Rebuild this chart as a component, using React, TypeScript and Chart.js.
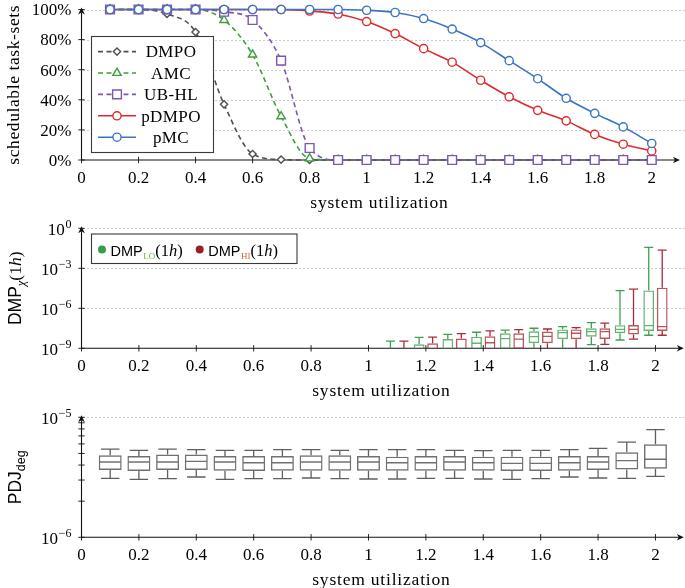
import React, { useEffect, useRef } from 'react';
import { Chart, registerables } from 'chart.js';

Chart.register(...registerables);

// ---------------- data ----------------
const utilization = [0.1, 0.2, 0.3, 0.4, 0.5, 0.6, 0.7, 0.8, 0.9, 1.0, 1.1, 1.2, 1.3, 1.4, 1.5, 1.6, 1.7, 1.8, 1.9, 2.0];
const xTickValues = [0, 0.2, 0.4, 0.6, 0.8, 1, 1.2, 1.4, 1.6, 1.8, 2];
const xTickLabels = ['0', '0.2', '0.4', '0.6', '0.8', '1', '1.2', '1.4', '1.6', '1.8', '2'];

// schedulable task-sets (%)
const dmpo = [100, 100, 97, 85, 37, 4, 0.3, 0, 0, 0, 0, 0, 0, 0, 0, 0, 0, 0, 0, 0];
const amc = [100, 100, 100, 100, 93, 70, 29, 1, 0, 0, 0, 0, 0, 0, 0, 0, 0, 0, 0, 0];
const ubhl = [100, 100, 100, 100, 98.5, 93, 66, 8, 0, 0, 0, 0, 0, 0, 0, 0, 0, 0, 0, 0];
const pdmpo = [100, 100, 100, 100, 100, 100, 100, 99, 97, 92, 84, 74, 65, 53, 42, 33, 26, 17, 10.5, 6];
const pmc = [100, 100, 100, 100, 100, 100, 100, 100, 100, 99.5, 98, 94, 87, 78, 66, 54, 41, 31, 22, 11];
const pctTicks = [0, 20, 40, 60, 80, 100];
const pctLabels = ['0%', '20%', '40%', '60%', '80%', '100%'];

// DMP_chi(1h) box plots
const dmpUtil = [1.1, 1.2, 1.3, 1.4, 1.5, 1.6, 1.7, 1.8, 1.9, 2.0];
const loWhiskerLow = [1e-10, 1e-10, 1e-10, 1e-10, 2e-10, 8e-10, 5e-10, 1.9e-9, 4.2e-9, 9.5e-9];
const loQ1 = [1e-10, 3e-10, 2e-10, 8e-10, 9e-10, 2.4e-9, 4.8e-9, 7.4e-9, 1.35e-8, 2e-8];
const loMedian = [2e-10, 8e-10, 9e-10, 2.4e-9, 5.4e-9, 7.4e-9, 1.5e-8, 1.8e-8, 2.6e-8, 5e-8];
const loQ3 = [5e-10, 2e-9, 5e-9, 7.4e-9, 1.35e-8, 1.9e-8, 2.6e-8, 3.2e-8, 5.4e-8, 2.2e-5];
const loWhiskerHigh = [3.5e-9, 6.7e-9, 1.1e-8, 1.6e-8, 2.3e-8, 3.2e-8, 4.2e-8, 8.3e-8, 2.1e-5, 3.7e-2];
const hiWhiskerLow = [1e-10, 1e-10, 1e-10, 1e-10, 2e-10, 8e-10, 5e-10, 2e-9, 4.8e-9, 9.5e-9];
const hiQ1 = [1e-10, 3e-10, 2e-10, 8e-10, 9e-10, 2.4e-9, 4.8e-9, 5e-9, 1.1e-8, 2e-8];
const hiMedian = [2e-10, 9e-10, 9e-10, 2.6e-9, 4.8e-9, 7.9e-9, 1.35e-8, 1.8e-8, 2.6e-8, 4.2e-8];
const hiQ3 = [5e-10, 2.4e-9, 5.4e-9, 7.9e-9, 1.35e-8, 1.8e-8, 2.6e-8, 3.2e-8, 5.6e-8, 3.5e-5];
const hiWhiskerHigh = [3.5e-9, 7e-9, 1.26e-8, 2e-8, 2.5e-8, 2.8e-8, 3.5e-8, 7.6e-8, 2.7e-5, 2.3e-2];
const dmpTicks = [1e-9, 1e-6, 1e-3, 1];
const dmpTickExp = ['−9', '−6', '−3', '0'];

// PDJ_deg box plots
const pdjWhiskerLow = [3.10e-6, 3.04e-6, 3.08e-6, 3.18e-6, 3.04e-6, 3.08e-6, 3.08e-6, 3.12e-6, 3.08e-6, 3.06e-6, 3.06e-6, 3.10e-6, 3.10e-6, 3.06e-6, 3.04e-6, 3.08e-6, 3.18e-6, 3.12e-6, 3.10e-6, 3.22e-6];
const pdjQ1 = [3.64e-6, 3.57e-6, 3.64e-6, 3.64e-6, 3.59e-6, 3.57e-6, 3.59e-6, 3.59e-6, 3.59e-6, 3.59e-6, 3.59e-6, 3.59e-6, 3.59e-6, 3.59e-6, 3.57e-6, 3.57e-6, 3.59e-6, 3.64e-6, 3.68e-6, 3.73e-6];
const pdjMedian = [4.24e-6, 4.24e-6, 4.24e-6, 4.30e-6, 4.24e-6, 4.18e-6, 4.18e-6, 4.24e-6, 4.24e-6, 4.24e-6, 4.18e-6, 4.18e-6, 4.24e-6, 4.18e-6, 4.13e-6, 4.13e-6, 4.18e-6, 4.24e-6, 4.35e-6, 4.47e-6];
const pdjQ3 = [4.82e-6, 4.76e-6, 4.89e-6, 4.89e-6, 4.76e-6, 4.76e-6, 4.76e-6, 4.82e-6, 4.82e-6, 4.76e-6, 4.70e-6, 4.76e-6, 4.76e-6, 4.70e-6, 4.70e-6, 4.70e-6, 4.76e-6, 4.76e-6, 5.11e-6, 5.95e-6];
const pdjWhiskerHigh = [5.44e-6, 5.31e-6, 5.44e-6, 5.37e-6, 5.31e-6, 5.31e-6, 5.37e-6, 5.37e-6, 5.31e-6, 5.37e-6, 5.37e-6, 5.37e-6, 5.31e-6, 5.27e-6, 5.31e-6, 5.31e-6, 5.37e-6, 5.50e-6, 6.22e-6, 7.88e-6];
const pdjTicks = [1e-6, 1e-5];
const pdjTickExp = ['−6', '−5'];
const pdjMinorTicks = [2e-6, 3e-6, 4e-6, 5e-6, 6e-6, 7e-6, 8e-6, 9e-6];

// ---------------- styles ----------------
const W = 685;
const H = 588;
const SERIF = '"Liberation Serif", "Times New Roman", serif';
const SANS = '"Liberation Sans", Arial, sans-serif';
const X_MAX = 2.09;
const PAD_LEFT = 81.5;
const PAD_RIGHT = 3.7;

const C_DMPO = '#4f4f4f';
const C_AMC = '#3d9f3d';
const C_UBHL = '#7d56b4';
const C_PDMPO = '#dd2b2b';
const C_PMC = '#3b74c2';
const C_LO = 'rgb(62,160,78)';
const C_LO_BOX = 'rgba(62,160,78,0.8)';
const C_HI = 'rgb(172,42,52)';
const C_HI_BOX = 'rgba(172,42,52,0.8)';
const C_PDJ = 'rgb(95,95,95)';
const C_PDJ_BOX = 'rgb(112,112,112)';

type Run = { text: string; font: string; dy?: number; color?: string; ls?: number };

function runsWidth(ctx: CanvasRenderingContext2D, runs: Run[]) {
  let w = 0;
  for (const r of runs) {
    ctx.font = r.font;
    (ctx as any).letterSpacing = (r.ls || 0) + 'px';
    w += ctx.measureText(r.text).width;
  }
  (ctx as any).letterSpacing = '0px';
  return w;
}

function drawRuns(ctx: CanvasRenderingContext2D, runs: Run[], x: number, y: number, align: 'left' | 'center' | 'right') {
  const w = runsWidth(ctx, runs);
  let cx = align === 'left' ? x : align === 'center' ? x - w / 2 : x - w;
  ctx.textAlign = 'left';
  ctx.textBaseline = 'alphabetic';
  for (const r of runs) {
    ctx.font = r.font;
    (ctx as any).letterSpacing = (r.ls || 0) + 'px';
    ctx.fillStyle = r.color || '#000';
    ctx.fillText(r.text, cx, y + (r.dy || 0));
    cx += ctx.measureText(r.text).width;
  }
  (ctx as any).letterSpacing = '0px';
}

function seg(ctx: CanvasRenderingContext2D, x1: number, y1: number, x2: number, y2: number) {
  ctx.beginPath();
  ctx.moveTo(x1, y1);
  ctx.lineTo(x2, y2);
  ctx.stroke();
}

function arrowRight(ctx: CanvasRenderingContext2D, tipX: number, y: number) {
  ctx.beginPath();
  ctx.moveTo(tipX, y);
  ctx.lineTo(tipX - 7, y - 3.3);
  ctx.lineTo(tipX - 5, y);
  ctx.lineTo(tipX - 7, y + 3.3);
  ctx.closePath();
  ctx.fill();
}

function arrowUp(ctx: CanvasRenderingContext2D, x: number, tipY: number) {
  ctx.beginPath();
  ctx.moveTo(x, tipY);
  ctx.lineTo(x - 3.3, tipY + 7);
  ctx.lineTo(x, tipY + 5);
  ctx.lineTo(x + 3.3, tipY + 7);
  ctx.closePath();
  ctx.fill();
}

function drawMarker(ctx: CanvasRenderingContext2D, style: string, x: number, y: number, r: number, color: string) {
  ctx.save();
  ctx.setLineDash([]);
  ctx.beginPath();
  if (style === 'rectRot') {
    ctx.moveTo(x, y - r); ctx.lineTo(x + r, y); ctx.lineTo(x, y + r); ctx.lineTo(x - r, y); ctx.closePath();
  } else if (style === 'triangle') {
    ctx.moveTo(x, y - r); ctx.lineTo(x + 0.866 * r, y + 0.5 * r); ctx.lineTo(x - 0.866 * r, y + 0.5 * r); ctx.closePath();
  } else if (style === 'rect') {
    const s = r * Math.SQRT1_2;
    ctx.rect(x - s, y - s, 2 * s, 2 * s);
  } else {
    ctx.arc(x, y, r, 0, Math.PI * 2);
  }
  ctx.fillStyle = '#fff';
  ctx.fill();
  ctx.strokeStyle = color;
  ctx.lineWidth = 1.4;
  ctx.stroke();
  ctx.restore();
}

type FrameSpec = {
  grid: number[];
  yTicks: number[];
  yMinor?: number[];
  yLabel: (ctx: CanvasRenderingContext2D, y: number, i: number) => void;
  yTitle: Run[];
  yTitleX: number;
};

function framePlugin(spec: FrameSpec) {
  return {
    id: 'frame',
    beforeDatasetsDraw(chart: any) {
      const ctx: CanvasRenderingContext2D = chart.ctx;
      const a = chart.chartArea;
      const xs = chart.scales.x;
      const ys = chart.scales.y;
      ctx.save();
      // grid
      ctx.strokeStyle = '#9c9c9c';
      ctx.lineWidth = 1;
      ctx.setLineDash([1, 3]);
      for (const v of spec.grid) {
        const y = Math.round(ys.getPixelForValue(v)) + 0.5;
        seg(ctx, a.left + 2, y, W, y);
      }
      ctx.setLineDash([]);
      // axes
      ctx.strokeStyle = '#111';
      ctx.fillStyle = '#111';
      ctx.lineWidth = 1.1;
      seg(ctx, a.left, a.bottom, a.right - 1, a.bottom);
      arrowRight(ctx, a.right + 2.5, a.bottom);
      seg(ctx, a.left, a.bottom, a.left, a.top + 3);
      arrowUp(ctx, a.left, a.top - 2);
      ctx.lineWidth = 0.9;
      for (const v of xTickValues) {
        const x = xs.getPixelForValue(v);
        seg(ctx, x, a.bottom - 3.2, x, a.bottom + 3.2);
      }
      for (const v of [...spec.yTicks, ...(spec.yMinor || [])]) {
        const y = ys.getPixelForValue(v);
        seg(ctx, a.left - 3.2, y, a.left + 3.2, y);
      }
      // x tick labels
      ctx.fillStyle = '#000';
      ctx.font = `17px ${SERIF}`;
      ctx.textAlign = 'center';
      ctx.textBaseline = 'alphabetic';
      xTickValues.forEach((v, i) => {
        ctx.fillText(xTickLabels[i], xs.getPixelForValue(v), a.bottom + 22.5);
      });
      // y tick labels
      spec.yTicks.forEach((v, i) => spec.yLabel(ctx, ys.getPixelForValue(v), i));
      // x title
      drawRuns(ctx, [{ text: 'system utilization', font: `17.5px ${SERIF}`, ls: 0.8 }], (a.left + a.right) / 2, a.bottom + 48, 'center');
      // y title
      ctx.save();
      ctx.translate(spec.yTitleX, (a.top + a.bottom) / 2);
      ctx.rotate(-Math.PI / 2);
      drawRuns(ctx, spec.yTitle, 0, 0, 'center');
      ctx.restore();
      ctx.restore();
    },
  };
}

function powLabel(exps: string[]) {
  return (ctx: CanvasRenderingContext2D, y: number, i: number) => {
    drawRuns(
      ctx,
      [
        { text: '10', font: `17px ${SERIF}` },
        { text: ' ', font: `3px ${SERIF}` },
        { text: exps[i], font: `12px ${SERIF}`, dy: -7 },
      ],
      71.5,
      y + 6.5,
      'right'
    );
  };
}

type BoxGroup = {
  xs: number[];
  wl: number[];
  q1: number[];
  med: number[];
  q3: number[];
  wh: number[];
  color: string;
  boxColor: string;
  boxW: number;
  capW: number;
};

function whiskerPlugin(groups: BoxGroup[]) {
  return {
    id: 'whiskers',
    afterDatasetsDraw(chart: any) {
      const ctx: CanvasRenderingContext2D = chart.ctx;
      const a = chart.chartArea;
      const xs = chart.scales.x;
      const ys = chart.scales.y;
      ctx.save();
      ctx.beginPath();
      ctx.rect(a.left, a.top - 3, a.right - a.left, a.bottom - a.top + 3);
      ctx.clip();
      for (const g of groups) {
        g.xs.forEach((xv, i) => {
          const x = xs.getPixelForValue(xv);
          const yWl = ys.getPixelForValue(g.wl[i]);
          const yQ1 = ys.getPixelForValue(g.q1[i]);
          const yMed = ys.getPixelForValue(g.med[i]);
          const yQ3 = ys.getPixelForValue(g.q3[i]);
          const yWh = ys.getPixelForValue(g.wh[i]);
          ctx.strokeStyle = g.color;
          ctx.lineWidth = 1.3;
          seg(ctx, x, yQ3, x, yWh);
          seg(ctx, x - g.capW / 2, yWh, x + g.capW / 2, yWh);
          seg(ctx, x, yQ1, x, yWl);
          seg(ctx, x - g.capW / 2, yWl, x + g.capW / 2, yWl);
          ctx.strokeStyle = g.boxColor;
          seg(ctx, x - g.boxW / 2 + 1, yMed, x + g.boxW / 2 - 1, yMed);
        });
      }
      ctx.restore();
    },
  };
}

// ---------------- chart A ----------------
const seriesA = [
  { label: 'DMPO', values: dmpo, color: C_DMPO, dash: [5, 3.5], style: 'rectRot', r: 3.6 },
  { label: 'AMC', values: amc, color: C_AMC, dash: [5, 3.5], style: 'triangle', r: 4.8 },
  { label: 'UB-HL', values: ubhl, color: C_UBHL, dash: [5, 3.5], style: 'rect', r: 6.2 },
  { label: 'pDMPO', values: pdmpo, color: C_PDMPO, dash: [] as number[], style: 'circle', r: 4.1 },
  { label: 'pMC', values: pmc, color: C_PMC, dash: [] as number[], style: 'circle', r: 4.1 },
];

const legendA = {
  id: 'legendA',
  afterDatasetsDraw(chart: any) {
    const ctx: CanvasRenderingContext2D = chart.ctx;
    ctx.save();
    ctx.fillStyle = '#fff';
    ctx.fillRect(91.5, 36.5, 122, 116);
    ctx.strokeStyle = '#3a3a3a';
    ctx.lineWidth = 1.1;
    ctx.strokeRect(91.5, 36.5, 122, 116);
    seriesA.forEach((s, i) => {
      const y = 51.6 + i * 21.4;
      ctx.strokeStyle = s.color;
      ctx.lineWidth = 1.6;
      ctx.setLineDash(s.dash);
      seg(ctx, 98, y, 136, y);
      ctx.setLineDash([]);
      drawMarker(ctx, s.style, 117, y, s.r, s.color);
      drawRuns(ctx, [{ text: s.label, font: `17px ${SERIF}`, ls: 0.4 }], 171, y + 5.8, 'center');
    });
    ctx.restore();
  },
};

function makeChartA(canvas: HTMLCanvasElement) {
  return new Chart(canvas, {
    type: 'line',
    data: {
      datasets: seriesA.map((s, i) => ({
        label: s.label,
        data: utilization.map((u, k) => ({ x: u, y: s.values[k] })),
        borderColor: s.color,
        borderWidth: 1.6,
        borderDash: s.dash,
        pointStyle: s.style as any,
        pointRadius: s.r,
        pointBorderWidth: 1.4,
        pointBorderColor: s.color,
        pointBackgroundColor: '#fff',
        cubicInterpolationMode: 'monotone' as const,
        clip: false as any,
        order: 5 - i,
      })),
    },
    options: {
      animation: false,
      responsive: false,
      events: [],
      layout: { padding: { left: PAD_LEFT, right: PAD_RIGHT, top: 9.5, bottom: H - 160 } },
      scales: {
        x: { type: 'linear', min: 0, max: X_MAX, display: false },
        y: { type: 'linear', min: 0, max: 100, display: false },
      },
      plugins: { legend: { display: false }, tooltip: { enabled: false } },
    },
    plugins: [
      framePlugin({
        grid: [20, 40, 60, 80, 100],
        yTicks: pctTicks,
        yLabel: (ctx, y, i) => drawRuns(ctx, [{ text: pctLabels[i], font: `17px ${SERIF}` }], 71.5, y + 5.8, 'right'),
        yTitle: [{ text: 'schedulable task-sets', font: `17.5px ${SERIF}`, ls: 0.6 }],
        yTitleX: 18.5,
      }),
      legendA,
    ],
  });
}

// ---------------- chart B ----------------
const DMP_OFFSET = 0.0235;
const loX = dmpUtil.map((u) => u - DMP_OFFSET);
const hiX = dmpUtil.map((u) => u + DMP_OFFSET);

const legendB = {
  id: 'legendB',
  afterDraw(chart: any) {
    const ctx: CanvasRenderingContext2D = chart.ctx;
    ctx.save();
    ctx.fillStyle = '#fff';
    ctx.fillRect(91.5, 234, 205.5, 29.5);
    ctx.strokeStyle = '#3a3a3a';
    ctx.lineWidth = 1.1;
    ctx.strokeRect(91.5, 234, 205.5, 29.5);
    const cy = 249.5;
    const entry = (dotX: number, dot: string, sub: string, subColor: string) => {
      ctx.beginPath();
      ctx.arc(dotX, cy, 4, 0, Math.PI * 2);
      ctx.fillStyle = dot;
      ctx.fill();
      drawRuns(
        ctx,
        [
          { text: 'DMP', font: `14.5px ${SANS}` },
          { text: ' ', font: `2px ${SERIF}` },
          { text: sub, font: `9px ${SERIF}`, dy: 3, color: subColor },
          { text: '(1', font: `16.5px ${SERIF}` },
          { text: 'h', font: `italic 16.5px ${SERIF}` },
          { text: ')', font: `16.5px ${SERIF}` },
        ],
        dotX + 8.5,
        255.5,
        'left'
      );
    };
    entry(102, 'rgb(52,158,76)', 'LO', 'rgb(112,176,60)');
    entry(199.7, 'rgb(150,32,38)', 'HI', 'rgb(226,96,70)');
    ctx.restore();
  },
};

function makeChartB(canvas: HTMLCanvasElement) {
  return new Chart(canvas, {
    type: 'bar',
    data: {
      datasets: [
        {
          label: 'DMP_LO(1h)',
          data: dmpUtil.map((u, i) => ({ x: loX[i], y: [loQ1[i], loQ3[i]] })) as any,
          backgroundColor: 'rgba(255,255,255,0)',
          borderColor: C_LO_BOX,
          borderWidth: 1.4,
          borderSkipped: false,
          grouped: false,
          barPercentage: 1,
          maxBarThickness: 11,
          clip: 0 as any,
        },
        {
          label: 'DMP_HI(1h)',
          data: dmpUtil.map((u, i) => ({ x: hiX[i], y: [hiQ1[i], hiQ3[i]] })) as any,
          backgroundColor: 'rgba(255,255,255,0)',
          borderColor: C_HI_BOX,
          borderWidth: 1.4,
          borderSkipped: false,
          grouped: false,
          barPercentage: 1,
          maxBarThickness: 11,
          clip: 0 as any,
        },
      ],
    },
    options: {
      animation: false,
      responsive: false,
      events: [],
      layout: { padding: { left: PAD_LEFT, right: PAD_RIGHT, top: 228.3, bottom: H - 348.3 } },
      scales: {
        x: { type: 'linear', min: 0, max: X_MAX, display: false, offset: false },
        y: { type: 'logarithmic', min: 1e-9, max: 1, display: false },
      },
      plugins: { legend: { display: false }, tooltip: { enabled: false } },
    },
    plugins: [
      framePlugin({
        grid: [1e-6, 1e-3, 1],
        yTicks: dmpTicks,
        yLabel: powLabel(dmpTickExp),
        yTitle: [
          { text: 'DMP', font: `17.5px ${SANS}` },
          { text: 'χ', font: `italic 12.5px ${SERIF}`, dy: 4 },
          { text: '(1', font: `17.5px ${SERIF}` },
          { text: 'h', font: `italic 17.5px ${SERIF}` },
          { text: ')', font: `17.5px ${SERIF}` },
        ],
        yTitleX: 20.5,
      }),
      whiskerPlugin([
        { xs: loX, wl: loWhiskerLow, q1: loQ1, med: loMedian, q3: loQ3, wh: loWhiskerHigh, color: C_LO, boxColor: C_LO_BOX, boxW: 11, capW: 9 },
        { xs: hiX, wl: hiWhiskerLow, q1: hiQ1, med: hiMedian, q3: hiQ3, wh: hiWhiskerHigh, color: C_HI, boxColor: C_HI_BOX, boxW: 11, capW: 9 },
      ]),
      legendB,
    ],
  });
}

// ---------------- chart C ----------------
function makeChartC(canvas: HTMLCanvasElement) {
  return new Chart(canvas, {
    type: 'bar',
    data: {
      datasets: [
        {
          label: 'PDJ_deg',
          data: utilization.map((u, i) => ({ x: u, y: [pdjQ1[i], pdjQ3[i]] })) as any,
          backgroundColor: 'rgba(255,255,255,0)',
          borderColor: C_PDJ_BOX,
          borderWidth: 1.4,
          borderSkipped: false,
          grouped: false,
          barPercentage: 1,
          maxBarThickness: 23.5,
          clip: 0 as any,
        },
      ],
    },
    options: {
      animation: false,
      responsive: false,
      events: [],
      layout: { padding: { left: PAD_LEFT, right: PAD_RIGHT, top: 417.3, bottom: H - 537.3 } },
      scales: {
        x: { type: 'linear', min: 0, max: X_MAX, display: false, offset: false },
        y: { type: 'logarithmic', min: 1e-6, max: 1e-5, display: false },
      },
      plugins: { legend: { display: false }, tooltip: { enabled: false } },
    },
    plugins: [
      framePlugin({
        grid: [1e-5],
        yTicks: pdjTicks,
        yMinor: pdjMinorTicks,
        yLabel: powLabel(pdjTickExp),
        yTitle: [
          { text: 'PDJ', font: `17.5px ${SANS}` },
          { text: 'deg', font: `12.5px ${SANS}`, dy: 4 },
        ],
        yTitleX: 20.5,
      }),
      whiskerPlugin([
        { xs: utilization, wl: pdjWhiskerLow, q1: pdjQ1, med: pdjMedian, q3: pdjQ3, wh: pdjWhiskerHigh, color: C_PDJ, boxColor: C_PDJ_BOX, boxW: 23.5, capW: 18.5 },
      ]),
    ],
  });
}

export default function App() {
  const r1 = useRef<HTMLCanvasElement>(null);
  const r2 = useRef<HTMLCanvasElement>(null);
  const r3 = useRef<HTMLCanvasElement>(null);

  useEffect(() => {
    const charts = [makeChartA(r1.current!), makeChartB(r2.current!), makeChartC(r3.current!)];
    return () => charts.forEach((c) => c.destroy());
  }, []);

  const cs: React.CSSProperties = { position: 'absolute', left: 0, top: 0, width: W, height: H };
  return (
    <div style={{ position: 'fixed', left: 0, top: 0, width: W, height: H, background: '#fff' }}>
      <canvas ref={r1} width={W} height={H} style={cs} />
      <canvas ref={r2} width={W} height={H} style={cs} />
      <canvas ref={r3} width={W} height={H} style={cs} />
    </div>
  );
}
